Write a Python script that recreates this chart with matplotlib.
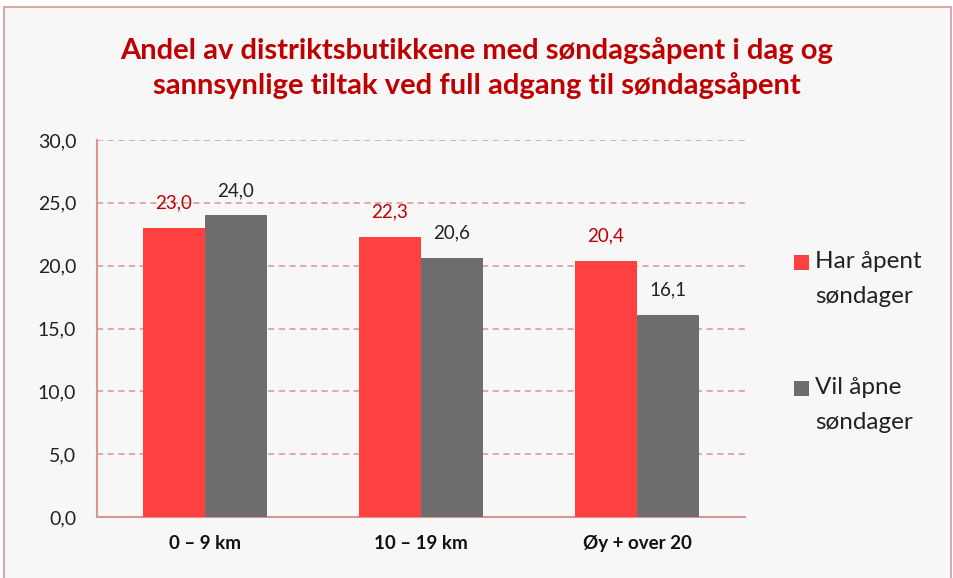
import matplotlib
matplotlib.use("Agg")
import matplotlib.pyplot as plt
from matplotlib.patches import Rectangle
import numpy as np

categories = ["0 – 9 km", "10 – 19 km", "Øy + over 20"]
har_apent = [23.0, 22.3, 20.4]
vil_apne = [24.0, 20.6, 16.1]
series_names = ["Har åpent\nsøndager", "Vil åpne\nsøndager"]
yticks = [0, 5, 10, 15, 20, 25, 30]

title = "Andel av distriktsbutikkene med søndagsåpent i dag og\nsannsynlige tiltak ved full adgang til søndagsåpent"

red = "#FF4040"
gray = "#6D6D6D"
dark_red = "#C00000"
line_col = "#D99694"
bg = "#F7F7F7"

plt.rcParams["font.family"] = ["Lato", "DejaVu Sans"]

W, H = 954, 578
fig = plt.figure(figsize=(W / 100, H / 100), dpi=100, facecolor="white")

# outer frame
fig.patches.append(Rectangle((4 / W, -0.01), 947 / W, 1.01 - 7 / H,
                             transform=fig.transFigure, facecolor=bg,
                             edgecolor=line_col, linewidth=1.2, zorder=-5))

ax = fig.add_axes([97 / W, 61 / H, 648 / W, 377 / H])
ax.patch.set_alpha(0)

x = np.arange(len(categories))
bw = 0.287
b1 = ax.bar(x - bw / 2, har_apent, bw, color=red, zorder=3)
b2 = ax.bar(x + bw / 2, vil_apne, bw, color=gray, zorder=3)

for rect, v in zip(b1, har_apent):
    ax.annotate(f"{v:.1f}".replace(".", ","), (rect.get_x() + rect.get_width() / 2, v),
                xytext=(0, 18), textcoords="offset points", ha="center", va="center",
                color=dark_red, fontsize=13.5)
for rect, v in zip(b2, vil_apne):
    ax.annotate(f"{v:.1f}".replace(".", ","), (rect.get_x() + rect.get_width() / 2, v),
                xytext=(0, 18), textcoords="offset points", ha="center", va="center",
                color="#222222", fontsize=13.5)

ax.set_xlim(-0.5, 2.5)
ax.set_ylim(0, 30)
ax.set_yticks(yticks)
ax.set_yticklabels([f"{t:.1f}".replace(".", ",") for t in yticks], fontsize=14, color="#222222")
ax.set_xticks(x)
ax.set_xticklabels(categories, fontsize=13.5, fontweight="bold", color="#111111")
ax.tick_params(axis="y", length=0, pad=15)
ax.tick_params(axis="x", length=0, pad=13)
ax.yaxis.grid(True, color=line_col, linestyle=(0, (4, 3)), linewidth=1.1, zorder=0)
ax.set_axisbelow(True)
for s in ["top", "right"]:
    ax.spines[s].set_visible(False)
for s in ["left", "bottom"]:
    ax.spines[s].set_color(line_col)
    ax.spines[s].set_linewidth(1.5)

fig.text(0.5, 1 - 68 / H, title, ha="center", va="center", fontsize=21,
         fontweight="bold", color=dark_red, linespacing=1.4)

# legend
for i, (name, col) in enumerate(zip(series_names, [red, gray])):
    ytop = 255 + i * 126
    fig.patches.append(Rectangle((794 / W, 1 - (ytop + 15) / H), 15 / W, 15 / H,
                                 transform=fig.transFigure, facecolor=col, edgecolor="none"))
    fig.text(815 / W, 1 - (ytop - 4) / H, name, ha="left", va="top", fontsize=17.5,
             color="#222222", linespacing=1.8)

fig.savefig("out.png", dpi=100, facecolor="white")
